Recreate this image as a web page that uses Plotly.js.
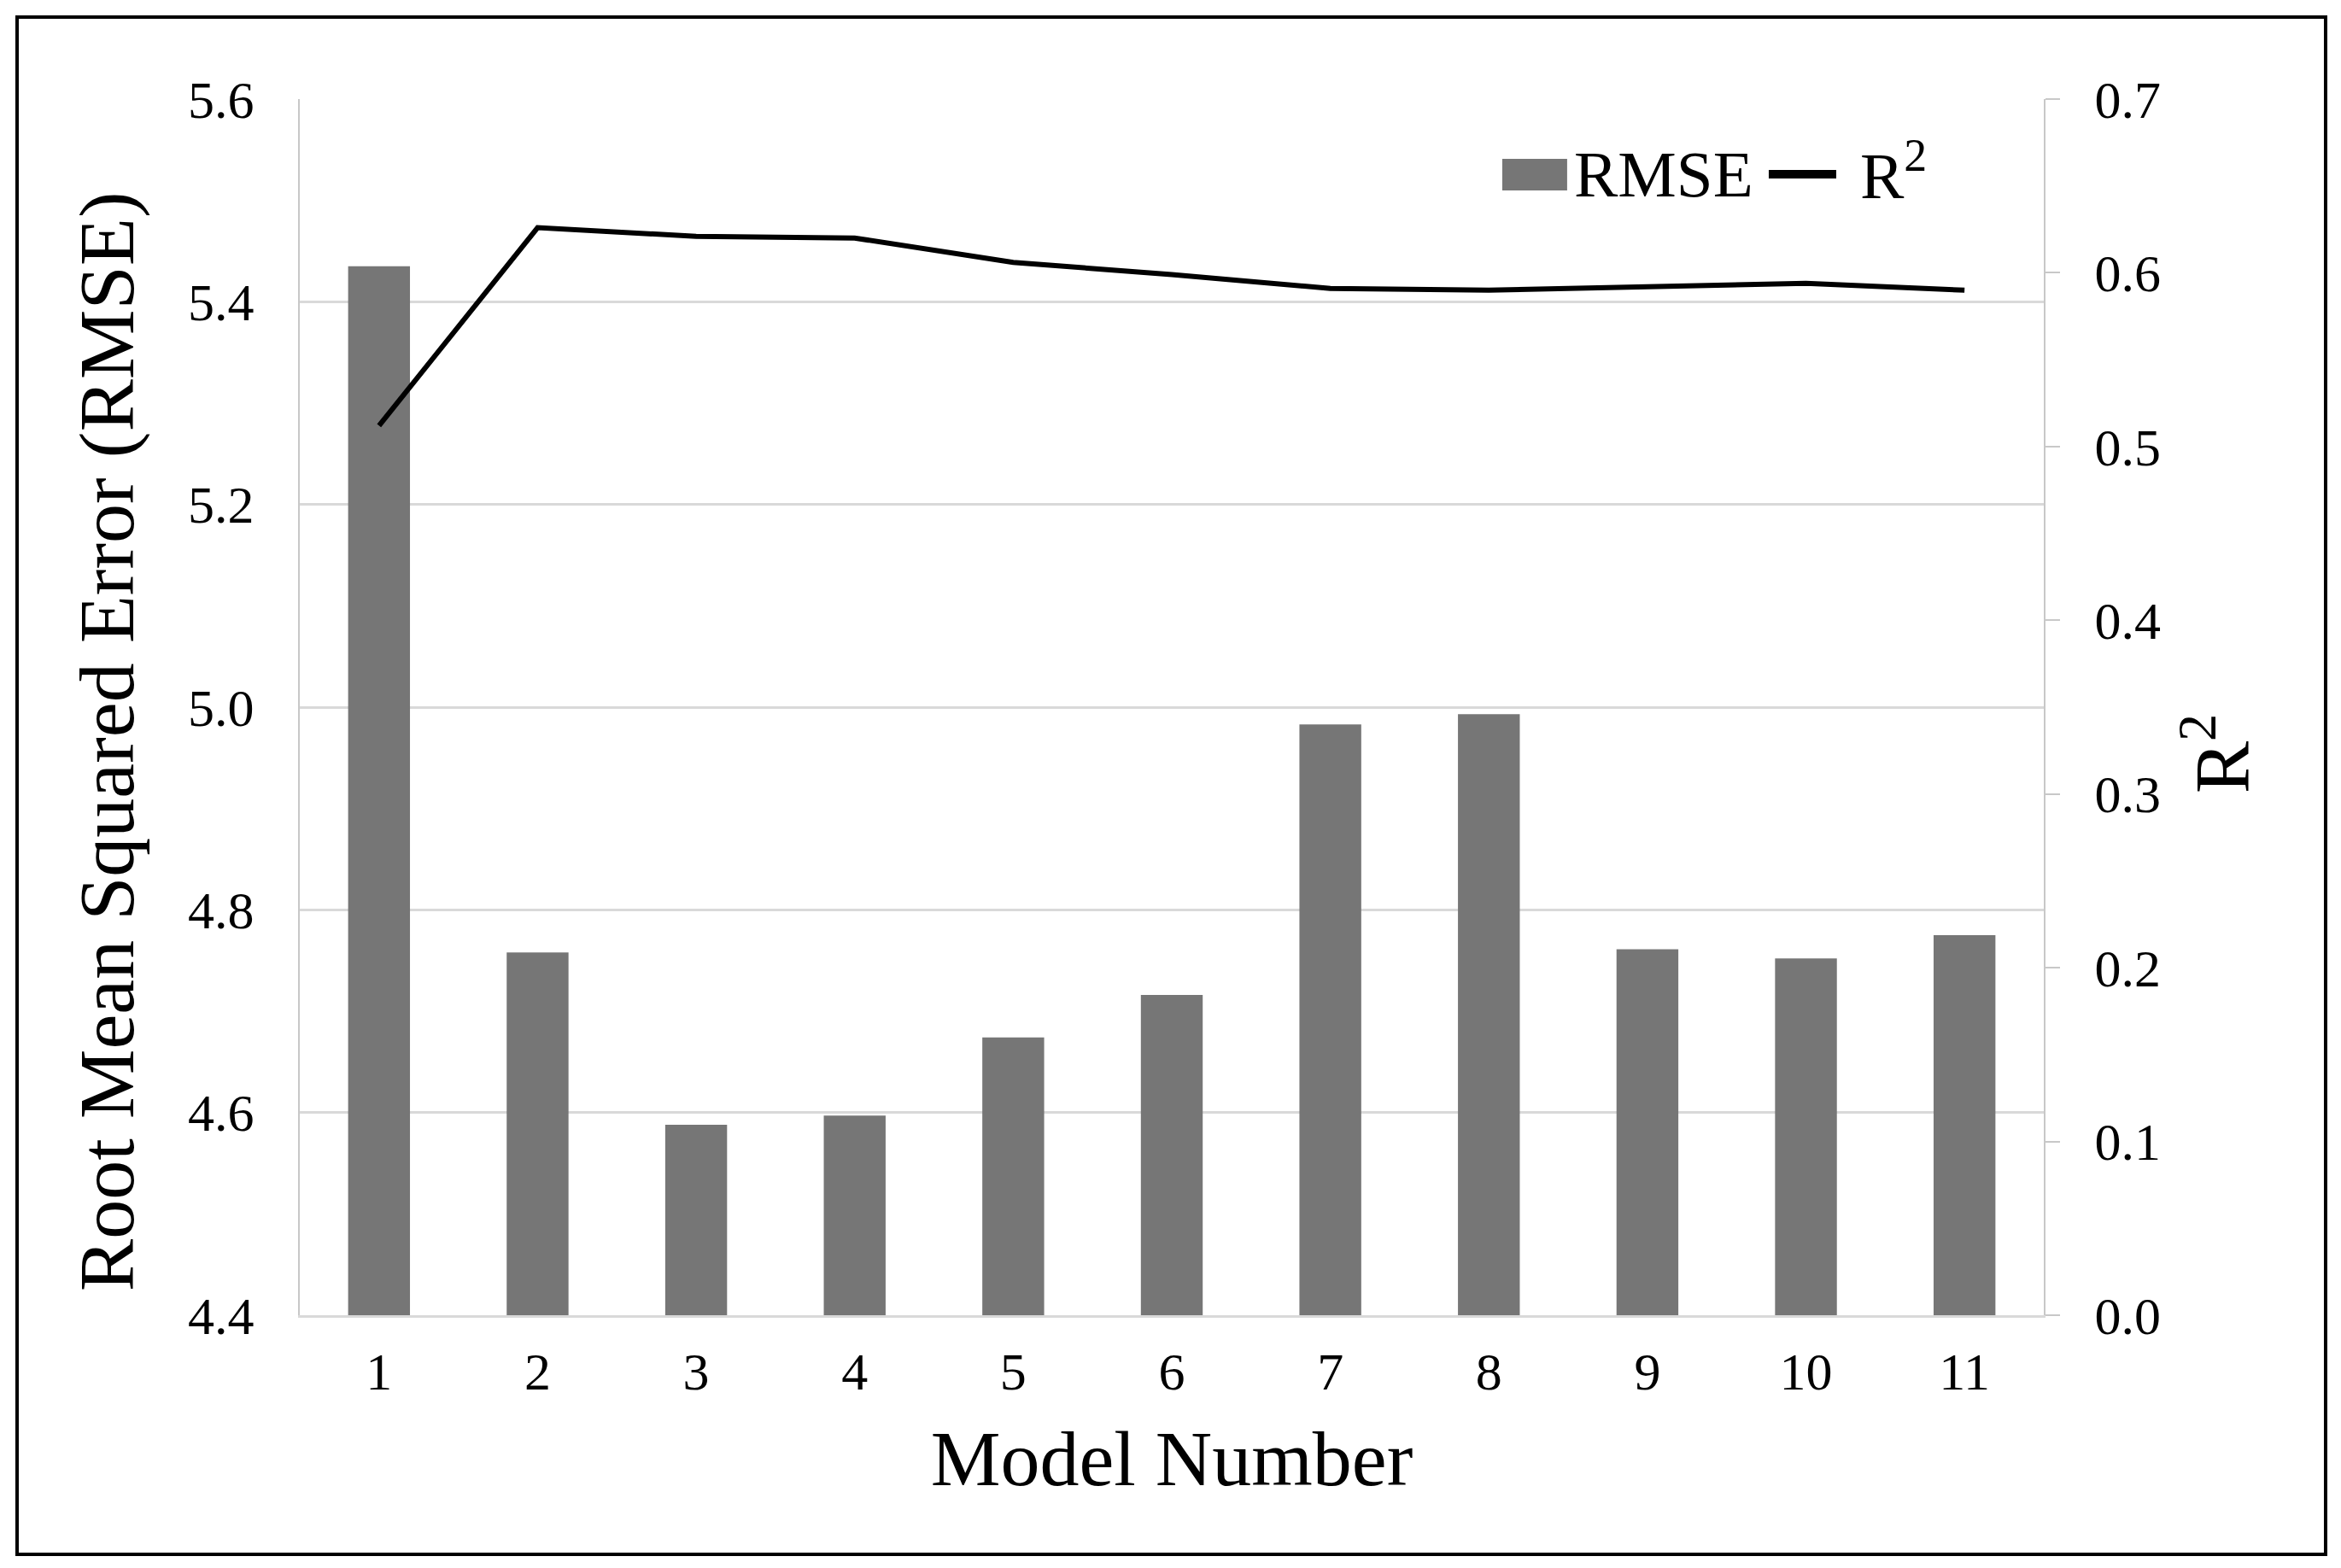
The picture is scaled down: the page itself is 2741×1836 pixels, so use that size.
<!DOCTYPE html>
<html>
<head>
<meta charset="utf-8">
<script src="https://cdn.plot.ly/plotly-3.0.1.min.js"></script>
<style>
  body { margin: 0; background: #fff; }
  #chart { width: 2741px; height: 1836px; }
</style>
</head>
<body>
<div id="chart"></div>
<script>
// model numbers on the x axis
const models = [1, 2, 3, 4, 5, 6, 7, 8, 9, 10, 11]
// RMSE per model (left axis)
const rmse = [5.435, 4.758, 4.588, 4.597, 4.674, 4.716, 4.983, 4.993, 4.761, 4.752, 4.775]
// R squared per model (right axis)
const r2 = [0.512, 0.626, 0.621, 0.620, 0.606, 0.599, 0.591, 0.590, 0.592, 0.594, 0.590]
// axis ticks
const rmseTicks = [4.4, 4.6, 4.8, 5.0, 5.2, 5.4, 5.6]
const r2Ticks = [0, 0.1, 0.2, 0.3, 0.4, 0.5, 0.6, 0.7]

const serif = '"Liberation Serif", "Times New Roman", serif'
const barColor = '#767676'

let bars = {
    x: models,
    y: rmse,
    name: 'RMSE',
    type: 'bar',
    marker: {color: barColor},
    yaxis: 'y'
}

let line = {
    x: models,
    y: r2,
    name: 'R<sup>2</sup>',
    type: 'scatter',
    mode: 'lines',
    line: {color: '#000000', width: 6},
    yaxis: 'y2'
}

// legend drawn by hand so the keys can be as big as in the original
let legendKeys = [
    {type: 'rect', xref: 'paper', yref: 'paper',
     x0: 0.6895, x1: 0.7267, y0: 0.9249, y1: 0.9508,
     fillcolor: barColor, line: {width: 0}},
    {type: 'line', xref: 'paper', yref: 'paper',
     x0: 0.8423, x1: 0.881, y0: 0.9382, y1: 0.9382,
     line: {color: '#000000', width: 10}}
]

let frame = {
    type: 'rect', xref: 'paper', yref: 'paper',
    x0: -0.1621, x1: 1.1616, y0: -0.1966, y1: 1.0674,
    line: {color: '#000000', width: 4},
    fillcolor: 'rgba(0,0,0,0)',
    layer: 'above'
}

let annotations = [
    {text: 'RMSE', xref: 'paper', yref: 'paper', x: 0.7295, y: 0.938,
     xanchor: 'left', yanchor: 'middle', showarrow: false,
     font: {family: serif, size: 77, color: '#000'}},
    {text: 'R<sup>2</sup>', xref: 'paper', yref: 'paper', x: 0.8935, y: 0.941,
     xanchor: 'left', yanchor: 'middle', showarrow: false,
     font: {family: serif, size: 77, color: '#000'}},
    {text: 'Root Mean Squared Error (RMSE)', xref: 'paper', yref: 'paper',
     x: -0.1105, y: 0.472, xanchor: 'center', yanchor: 'middle', textangle: -90,
     showarrow: false, font: {family: serif, size: 92, color: '#000'}},
    {text: 'R<sup>2</sup>', xref: 'paper', yref: 'paper',
     x: 1.099, y: 0.462, xanchor: 'center', yanchor: 'middle', textangle: -90,
     showarrow: false, font: {family: serif, size: 92, color: '#000'}}
]

let layout = {
    width: 2741,
    height: 1836,
    margin: {l: 351, r: 348, t: 116, b: 296},
    paper_bgcolor: '#ffffff',
    plot_bgcolor: '#ffffff',
    font: {family: serif, color: '#000000', size: 62},
    bargap: 0.61,
    showlegend: false,
    xaxis: {
        range: [0.5, 11.5],
        tickmode: 'array',
        tickvals: models,
        ticktext: models.map(String),
        showgrid: false,
        zeroline: false,
        showline: true,
        linecolor: '#d9d9d9',
        linewidth: 3,
        ticks: '',
        ticklabelstandoff: 10,
        tickfont: {family: serif, size: 62},
        title: {text: 'Model Number', font: {family: serif, size: 92}, standoff: 36}
    },
    yaxis: {
        range: [4.4, 5.6],
        tickmode: 'array',
        tickvals: rmseTicks,
        ticktext: rmseTicks.map(v => v.toFixed(1)),
        showgrid: true,
        gridcolor: '#d9d9d9',
        gridwidth: 3,
        zeroline: false,
        showline: true,
        linecolor: '#c8c8c8',
        linewidth: 2,
        ticks: '',
        ticklabelstandoff: 39,
        tickfont: {family: serif, size: 62}
    },
    yaxis2: {
        overlaying: 'y',
        side: 'right',
        range: [0, 0.7],
        tickmode: 'array',
        tickvals: r2Ticks,
        ticktext: r2Ticks.map(v => v.toFixed(1)),
        showgrid: false,
        zeroline: false,
        showline: true,
        linecolor: '#c8c8c8',
        linewidth: 2,
        ticks: 'outside',
        ticklen: 17,
        tickwidth: 2,
        tickcolor: '#c8c8c8',
        ticklabelstandoff: 28,
        tickfont: {family: serif, size: 62}
    },
    shapes: legendKeys.concat([frame]),
    annotations: annotations
}

Plotly.newPlot('chart', [bars, line], layout, {displayModeBar: false, staticPlot: true})
</script>
</body>
</html>
